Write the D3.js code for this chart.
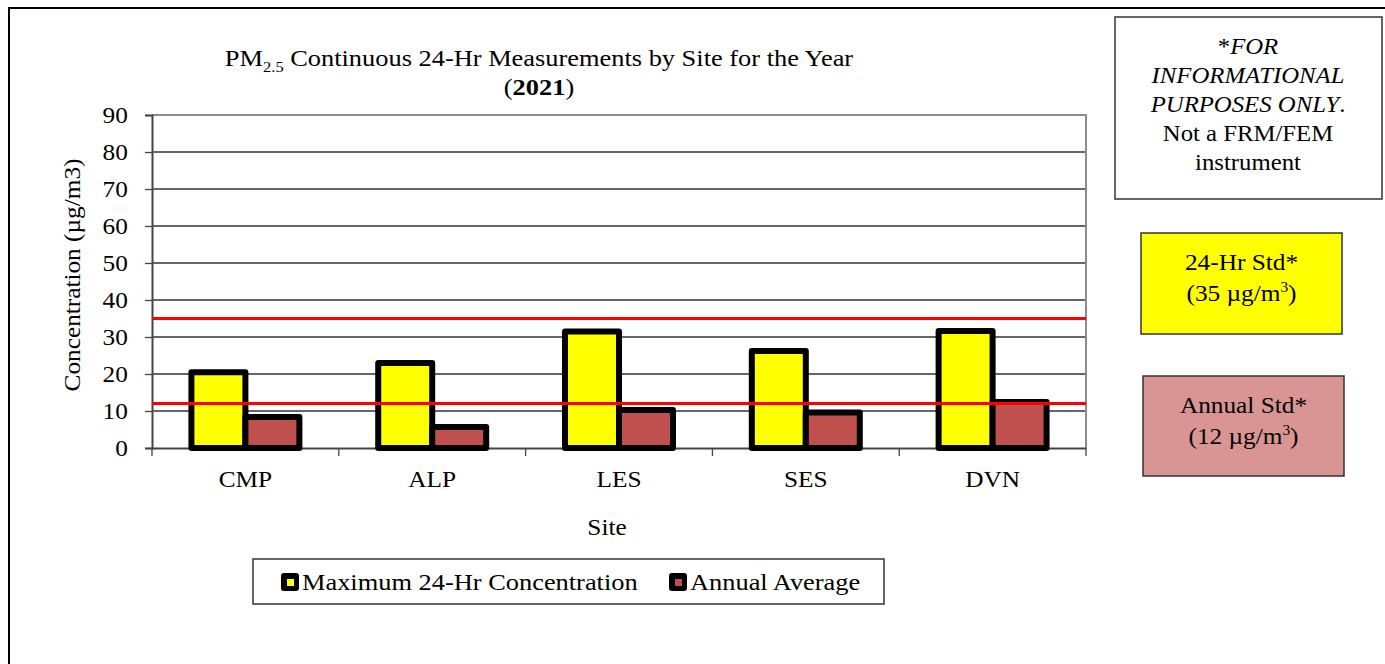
<!DOCTYPE html>
<html>
<head>
<meta charset="utf-8">
<script src="https://cdn.jsdelivr.net/npm/d3@7"></script>
<style>
  body { margin: 0; background: #fff; }
  svg text { font-family: "Liberation Serif", "Times New Roman", serif; fill: #000; }
</style>
</head>
<body>
<div id="chart"></div>
<script>
// data
const sites = ["CMP", "ALP", "LES", "SES", "DVN"];
const max_24hr = [20.5, 23.0, 31.5, 26.2, 31.6];
const annual_avg = [8.4, 5.7, 10.3, 9.6, 12.4];
const series_names = ["Maximum 24-Hr Concentration", "Annual Average"];
const series_colors = ["#ffff00", "#c0504d"];
const y_ticks = [0, 10, 20, 30, 40, 50, 60, 70, 80, 90];
const std_levels = [35, 12];

const page = { width: 1385, height: 664 };
const plot = { left: 152, right: 1086, top: 115, bottom: 448 };
// the source picture is a bit wider than it is tall, text included
const text_stretch = 1.1;

const svg = d3.select("#chart")
  .append("svg")
    .attr("width", page.width)
    .attr("height", page.height);

function place_text(sel, x, y, angle) {
  sel.attr("transform", `translate(${x},${y}) rotate(${angle || 0}) scale(${text_stretch},1)`);
  return sel;
}

// outer frame (runs off the right and bottom edge)
svg.append("rect")
  .attr("x", 9).attr("y", 8)
  .attr("width", page.width + 20).attr("height", page.height + 20)
  .attr("fill", "none")
  .attr("stroke", "#000")
  .attr("stroke-width", 2);

const y = d3.scaleLinear()
  .domain([0, 90])
  .range([plot.bottom, plot.top]);

const x0 = d3.scaleBand()
  .domain(sites)
  .range([plot.left, plot.right])
  .padding(0);

const x1 = d3.scaleBand()
  .domain(series_names)
  .range([0, x0.bandwidth()])
  .paddingInner(0)
  .paddingOuter(0.73);

// gridlines
svg.append("g")
  .selectAll("line")
  .data(y_ticks.filter((d) => d > 0 && d < 90))
  .join("line")
    .attr("x1", plot.left).attr("x2", plot.right)
    .attr("y1", (d) => y(d)).attr("y2", (d) => y(d))
    .attr("stroke", "#333")
    .attr("stroke-width", 1.3);

// top and right border of plot area
svg.append("path")
  .attr("d", `M${plot.left},${y(90)}H${plot.right}V${plot.bottom}`)
  .attr("fill", "none")
  .attr("stroke", "#8c8c8c")
  .attr("stroke-width", 2);

// y axis
const y_axis = svg.append("g")
  .attr("transform", `translate(${plot.left},0)`)
  .call(d3.axisLeft(y).tickValues(y_ticks).tickSize(7).tickPadding(15));
y_axis.select(".domain").attr("stroke", "#444").attr("stroke-width", 2);
y_axis.selectAll(".tick line").attr("stroke", "#444").attr("stroke-width", 1.3);
y_axis.selectAll(".tick text")
  .style("font-family", "Liberation Serif")
  .style("font-size", "23px")
  .attr("dy", "0.34em")
  .attr("transform", `scale(${text_stretch},1)`);

// x axis
const x_axis = svg.append("g")
  .attr("transform", `translate(0,${plot.bottom})`)
  .call(d3.axisBottom(x0).tickSize(0).tickPadding(23));
x_axis.select(".domain").attr("stroke", "#444").attr("stroke-width", 2);
x_axis.selectAll(".tick text")
  .style("font-family", "Liberation Serif")
  .style("font-size", "23px")
  .attr("transform", `scale(${text_stretch},1)`);
svg.append("g")
  .selectAll("line")
  .data(sites.map((d) => x0(d)).concat([plot.right]))
  .join("line")
    .attr("x1", (d) => d).attr("x2", (d) => d)
    .attr("y1", plot.bottom).attr("y2", plot.bottom + 8)
    .attr("stroke", "#444")
    .attr("stroke-width", 1.3);

// bars
const bar_rows = sites.map((site, i) => ({
  site: site,
  values: [max_24hr[i], annual_avg[i]]
}));

svg.append("g")
  .selectAll("g")
  .data(bar_rows)
  .join("g")
    .attr("transform", (d) => `translate(${x0(d.site)},0)`)
  .selectAll("rect")
  .data((d) => d.values.map((v, k) => ({ name: series_names[k], value: v, color: series_colors[k] })))
  .join("rect")
    .attr("x", (d) => x1(d.name))
    .attr("y", (d) => y(d.value))
    .attr("width", x1.bandwidth())
    .attr("height", (d) => y(0) - y(d.value))
    .attr("fill", (d) => d.color)
    .attr("stroke", "#000")
    .attr("stroke-width", 6)
    .attr("stroke-linejoin", "round");

// standard lines
svg.append("g")
  .selectAll("line")
  .data(std_levels)
  .join("line")
    .attr("x1", plot.left).attr("x2", plot.right)
    .attr("y1", (d) => y(d)).attr("y2", (d) => y(d))
    .attr("stroke", "#ff0000")
    .attr("stroke-width", 3);

// title
const title = place_text(svg.append("text"), 539, 66)
  .attr("text-anchor", "middle")
  .style("font-size", "24px");
title.append("tspan").text("PM");
title.append("tspan").attr("dy", 6).style("font-size", "15px").text("2.5");
title.append("tspan").attr("dy", -6).text(" Continuous 24-Hr Measurements by Site for the Year");

const title2 = place_text(svg.append("text"), 539, 95)
  .attr("text-anchor", "middle")
  .style("font-size", "24px");
title2.append("tspan").text("(");
title2.append("tspan").style("font-weight", "bold").text("2021");
title2.append("tspan").text(")");

// axis titles
place_text(svg.append("text"), 80, 275, -90)
  .attr("text-anchor", "middle")
  .style("font-size", "23px")
  .text("Concentration (µg/m3)");

place_text(svg.append("text"), 607, 535)
  .attr("text-anchor", "middle")
  .style("font-size", "23px")
  .text("Site");

// legend
const legend = svg.append("g");
legend.append("rect")
  .attr("x", 253).attr("y", 559)
  .attr("width", 631).attr("height", 45)
  .attr("fill", "#fff")
  .attr("stroke", "#333")
  .attr("stroke-width", 1.5);

const legend_x = [281, 669];
const legend_items = legend.selectAll("g")
  .data(series_names)
  .join("g")
    .attr("transform", (d, i) => `translate(${legend_x[i]},582)`);
legend_items.append("rect")
  .attr("x", 0).attr("y", -9)
  .attr("width", 18).attr("height", 18)
  .attr("rx", 3)
  .attr("fill", "#000");
legend_items.append("rect")
  .attr("x", 6).attr("y", -3)
  .attr("width", 7).attr("height", 7)
  .attr("fill", (d, i) => series_colors[i]);
legend_items.append("text")
  .attr("transform", `translate(21,8) scale(${text_stretch},1)`)
  .style("font-size", "24px")
  .text((d) => d);

// side notes
const note = svg.append("g");
note.append("rect")
  .attr("x", 1115).attr("y", 17)
  .attr("width", 267).attr("height", 182)
  .attr("fill", "#fff")
  .attr("stroke", "#333")
  .attr("stroke-width", 1.5);
const note_lines = [
  [["*", false], ["FOR", true]],
  [["INFORMATIONAL", true]],
  [["PURPOSES ONLY", true], [".", false]],
  [["Not a FRM/FEM", false]],
  [["instrument", false]]
];
note.selectAll("text")
  .data(note_lines)
  .join("text")
    .attr("transform", (d, i) => `translate(1248,${54 + i * 29}) scale(${text_stretch},1)`)
    .attr("text-anchor", "middle")
    .style("font-size", "22.5px")
  .selectAll("tspan")
  .data((d) => d)
  .join("tspan")
    .style("font-style", (d) => d[1] ? "italic" : "normal")
    .text((d) => d[0]);

const std_boxes = [
  { x: 1141, y: 233, w: 201, h: 101, fill: "#ffff00", line1: "24-Hr Std*", value: std_levels[0] },
  { x: 1143, y: 376, w: 201, h: 100, fill: "#d99594", line1: "Annual Std*", value: std_levels[1] }
];
const boxes = svg.append("g")
  .selectAll("g")
  .data(std_boxes)
  .join("g");
boxes.append("rect")
  .attr("x", (d) => d.x).attr("y", (d) => d.y)
  .attr("width", (d) => d.w).attr("height", (d) => d.h)
  .attr("fill", (d) => d.fill)
  .attr("stroke", "#333")
  .attr("stroke-width", 1.5);
boxes.append("text")
  .attr("transform", (d) => `translate(${d.x + d.w / 2},${d.y + 37}) scale(${text_stretch},1)`)
  .attr("text-anchor", "middle")
  .style("font-size", "23px")
  .text((d) => d.line1);
const box_unit = boxes.append("text")
  .attr("transform", (d) => `translate(${d.x + d.w / 2},${d.y + 68}) scale(${text_stretch},1)`)
  .attr("text-anchor", "middle")
  .style("font-size", "23px");
box_unit.append("tspan").text((d) => `(${d.value} µg/m`);
box_unit.append("tspan").attr("dy", -9).style("font-size", "14px").text("3");
box_unit.append("tspan").attr("dy", 9).text(")");
</script>
</body>
</html>
